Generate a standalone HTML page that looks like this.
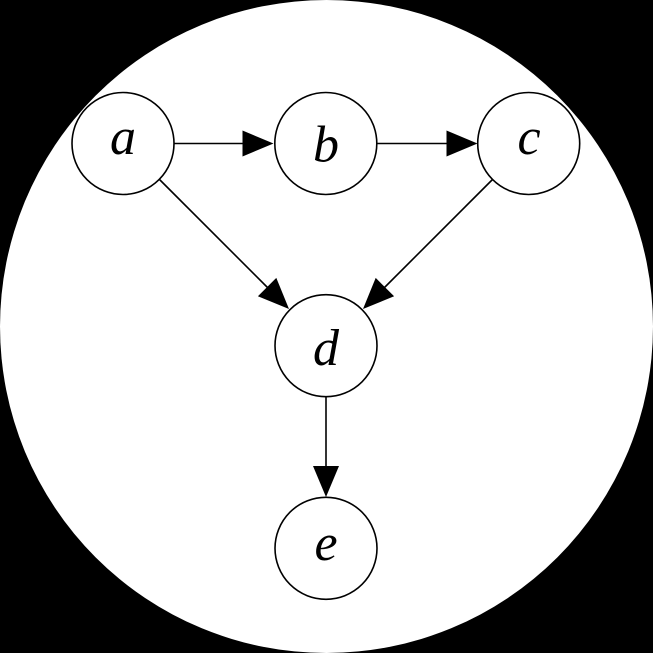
<!DOCTYPE html>
<html>
<head>
<meta charset="utf-8">
<style>
html,body{margin:0;padding:0;background:#000;}
svg{display:block;}
text{font-family:"Liberation Serif",serif;font-style:italic;font-size:52px;fill:#000;}
</style>
</head>
<body>
<svg width="653" height="653" viewBox="0 0 653 653" xmlns="http://www.w3.org/2000/svg">
<rect x="0" y="0" width="653" height="653" fill="#000"/>
<circle cx="326.5" cy="326.5" r="326.5" fill="#fff"/>
<g fill="#fff" stroke="#000" stroke-width="1.6">
<circle cx="123" cy="143.5" r="51"/>
<circle cx="325.8" cy="143.5" r="51"/>
<circle cx="528.7" cy="143.5" r="51"/>
<circle cx="326" cy="345.7" r="51"/>
<circle cx="326" cy="548.3" r="51"/>
</g>
<g stroke="#000" stroke-width="1.6" fill="none">
<line x1="174" y1="143.5" x2="245" y2="143.5"/>
<line x1="377" y1="143.5" x2="449" y2="143.5"/>
<line x1="159.5" y1="179.5" x2="268" y2="288"/>
<line x1="492.5" y1="179.5" x2="384" y2="288"/>
<line x1="326" y1="397" x2="326" y2="468"/>
</g>
<g fill="#000">
<polygon points="273.5,143.5 242.5,130.5 242.5,156.5"/>
<polygon points="477.5,143.5 446.5,130.5 446.5,156.5"/>
<polygon points="289,309 257.9,296.3 276.3,277.9"/>
<polygon points="363,309 394.1,296.3 375.7,277.9"/>
<polygon points="326,497 313,466 339,466"/>
</g>
<text x="123" y="154" text-anchor="middle">a</text>
<text x="326" y="161.5" text-anchor="middle">b</text>
<text x="529" y="154" text-anchor="middle">c</text>
<text x="326" y="365" text-anchor="middle">d</text>
<text x="326" y="560" text-anchor="middle">e</text>
</svg>
</body>
</html>
